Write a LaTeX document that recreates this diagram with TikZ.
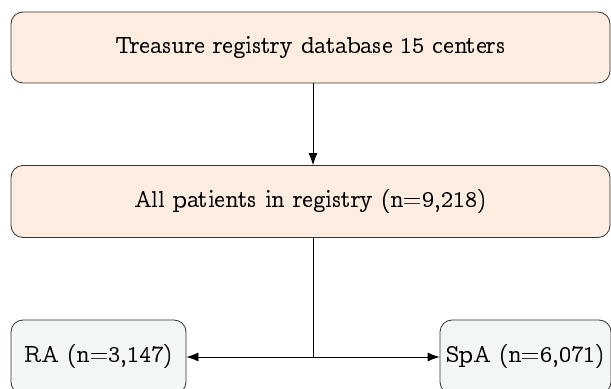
\documentclass[tikz,border=0pt]{standalone}
\usepackage[OT1]{fontenc}
\usepackage{ccfonts}
\usetikzlibrary{arrows.meta}

\definecolor{peach}{HTML}{FCEDE0}
\definecolor{palegreen}{HTML}{F3F7F3}
\definecolor{edgegray}{HTML}{333333}

\tikzset{
  stagebox/.style={draw=edgegray, rounded corners=6pt, fill=peach, minimum height=35.5pt,
    inner sep=0pt, text=black, font=\fontsize{12}{14}\selectfont},
  groupbox/.style={stagebox, fill=palegreen, minimum height=37pt},
  flowarrow/.style={-{Latex[length=6pt,width=4.5pt]}, draw=black}
}

\begin{document}
\begin{tikzpicture}[x=0.5pt,y=-0.5pt]
	\useasboundingbox (0,0) rectangle (611,389);

	\node[stagebox, minimum width=299.5pt] (registry) at (310.5,47.5) {Treasure registry database 15 centers};
	\node[stagebox, minimum width=299.5pt, minimum height=36pt] (patients) at (310.5,201.5) {All patients in registry (n=9,218)};
	\node[groupbox, minimum width=87.5pt] (ra) at (98.5,357) {RA (n=3,147)};
	\node[groupbox, minimum width=85.5pt] (spa) at (525.5,357) {SpA (n=6,071)};

	\draw[flowarrow] ([xshift=1.25pt]registry.south) -- ([xshift=1.25pt]patients.north);
	\coordinate (split) at ([xshift=1.25pt]patients.south |- ra.west);
	\draw ([xshift=1.25pt]patients.south) -- (split);
	\draw[flowarrow] (split) -- (ra);
	\draw[flowarrow] (split) -- (spa);
\end{tikzpicture}
\end{document}
